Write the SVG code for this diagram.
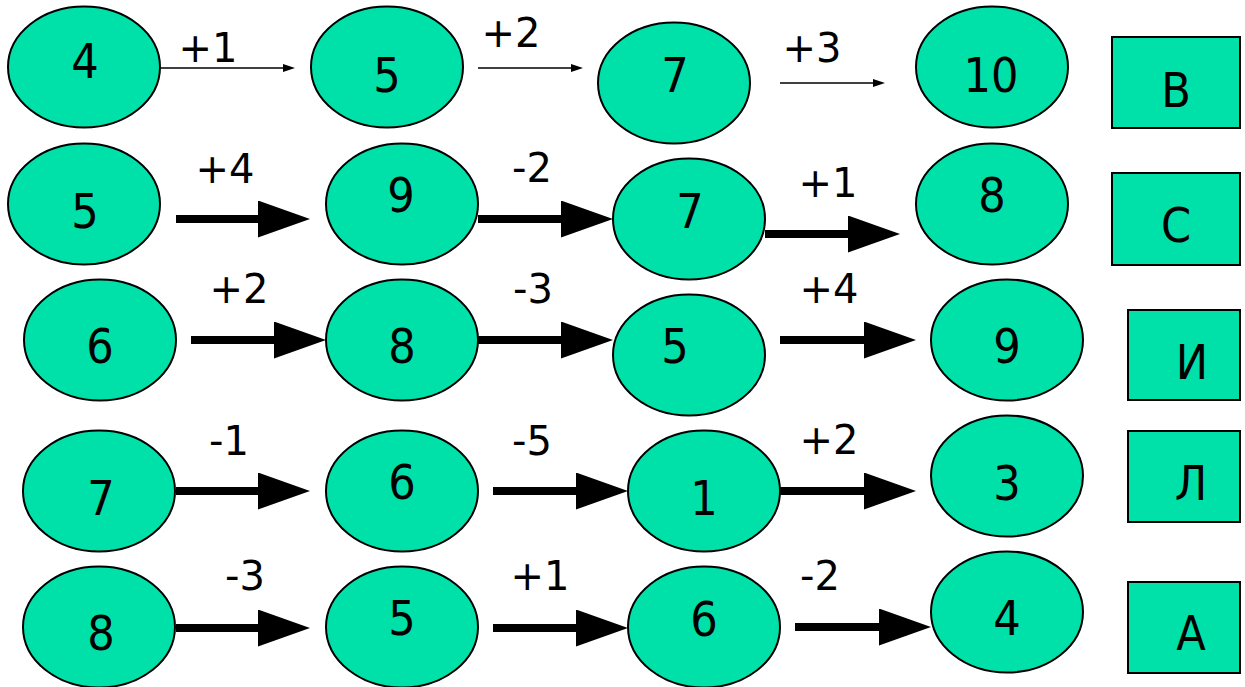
<svg xmlns="http://www.w3.org/2000/svg" width="1245" height="687" viewBox="0 0 1245 687">
<style>
text{fill:#000;text-anchor:middle}
.n text{font-family:"DejaVu Sans Condensed","DejaVu Sans",sans-serif;font-stretch:condensed;font-size:48px}
.lbl{font-family:"DejaVu Sans",sans-serif;font-size:40px}
.n ellipse,.n rect{fill:#00E1AA;stroke:#000;stroke-width:2}
.thin{stroke:#000;stroke-width:1.3;fill:none}
.thick{stroke:#000;stroke-width:8;fill:none}
</style>
<defs>
<marker id="ah" markerUnits="userSpaceOnUse" markerWidth="54" markerHeight="38" refX="2" refY="18.5" orient="auto" viewBox="0 0 54 38">
<path d="M0,0 L52,18.5 L0,37 z" fill="#000"/>
</marker>
<marker id="as" markerUnits="userSpaceOnUse" markerWidth="14" markerHeight="10" refX="1" refY="4.5" orient="auto" viewBox="0 0 14 10">
<path d="M0,0.5 L12,4.5 L0,8.5 z" fill="#000"/>
</marker>
</defs>
<g id="connectors">
<line class="thin" x1="160" y1="68" x2="284" y2="68" marker-end="url(#as)"/>
<line class="thin" x1="478" y1="68" x2="572" y2="68" marker-end="url(#as)"/>
<line class="thin" x1="780" y1="83" x2="874" y2="83" marker-end="url(#as)"/>
<line class="thick" x1="176" y1="219" x2="260" y2="219" marker-end="url(#ah)"/>
<line class="thick" x1="478" y1="219" x2="563" y2="219" marker-end="url(#ah)"/>
<line class="thick" x1="765" y1="234" x2="850" y2="234" marker-end="url(#ah)"/>
<line class="thick" x1="191" y1="340" x2="276" y2="340" marker-end="url(#ah)"/>
<line class="thick" x1="477" y1="340" x2="563" y2="340" marker-end="url(#ah)"/>
<line class="thick" x1="780" y1="340" x2="866" y2="340" marker-end="url(#ah)"/>
<line class="thick" x1="176" y1="491" x2="260" y2="491" marker-end="url(#ah)"/>
<line class="thick" x1="493" y1="491" x2="578" y2="491" marker-end="url(#ah)"/>
<line class="thick" x1="780" y1="491" x2="866" y2="491" marker-end="url(#ah)"/>
<line class="thick" x1="176" y1="628" x2="260" y2="628" marker-end="url(#ah)"/>
<line class="thick" x1="493" y1="628" x2="578" y2="628" marker-end="url(#ah)"/>
<line class="thick" x1="795" y1="627" x2="881" y2="627" marker-end="url(#ah)"/>
<text class="lbl" x="208" y="62">+1</text>
<text class="lbl" x="511" y="47">+2</text>
<text class="lbl" x="812" y="62">+3</text>
<text class="lbl" x="225" y="183">+4</text>
<text class="lbl" x="532" y="182">-2</text>
<text class="lbl" x="828" y="197">+1</text>
<text class="lbl" x="239" y="303">+2</text>
<text class="lbl" x="533" y="303">-3</text>
<text class="lbl" x="829" y="303">+4</text>
<text class="lbl" x="229" y="455">-1</text>
<text class="lbl" x="532" y="455">-5</text>
<text class="lbl" x="829" y="454">+2</text>
<text class="lbl" x="245" y="590">-3</text>
<text class="lbl" x="540" y="590">+1</text>
<text class="lbl" x="820" y="590">-2</text>
</g>
<g id="r1n1" class="n"><ellipse cx="84" cy="67" rx="76" ry="60.5"/><text x="85" y="78">4</text></g>
<g id="r1n2" class="n"><ellipse cx="387" cy="67" rx="76" ry="60.5"/><text x="387" y="92">5</text></g>
<g id="r1n3" class="n"><ellipse cx="674" cy="83" rx="76" ry="60.5"/><text x="675" y="92">7</text></g>
<g id="r1n4" class="n"><ellipse cx="992" cy="67" rx="76" ry="60.5"/><text x="991" y="92">10</text></g>
<g id="r1box" class="n"><rect x="1112" y="37" width="128" height="91"/><text x="1176" y="107">В</text></g>
<g id="r2n1" class="n"><ellipse cx="84" cy="204" rx="76" ry="60.5"/><text x="85" y="228">5</text></g>
<g id="r2n2" class="n"><ellipse cx="402" cy="204" rx="76" ry="60.5"/><text x="401" y="212">9</text></g>
<g id="r2n3" class="n"><ellipse cx="689" cy="219" rx="76" ry="60.5"/><text x="690" y="228">7</text></g>
<g id="r2n4" class="n"><ellipse cx="992" cy="204" rx="76" ry="60.5"/><text x="992" y="212">8</text></g>
<g id="r2box" class="n"><rect x="1112" y="173" width="128" height="92"/><text x="1176" y="242">С</text></g>
<g id="r3n1" class="n"><ellipse cx="100" cy="340" rx="76" ry="60.5"/><text x="100" y="363">6</text></g>
<g id="r3n2" class="n"><ellipse cx="402" cy="340" rx="76" ry="60.5"/><text x="402" y="363">8</text></g>
<g id="r3n3" class="n"><ellipse cx="689" cy="355" rx="76" ry="60.5"/><text x="675" y="363">5</text></g>
<g id="r3n4" class="n"><ellipse cx="1007" cy="340" rx="76" ry="60.5"/><text x="1007" y="363">9</text></g>
<g id="r3box" class="n"><rect x="1128" y="310" width="112" height="90"/><text x="1192" y="379">И</text></g>
<g id="r4n1" class="n"><ellipse cx="99" cy="491" rx="76" ry="60.5"/><text x="101" y="515">7</text></g>
<g id="r4n2" class="n"><ellipse cx="402" cy="491" rx="76" ry="60.5"/><text x="402" y="499">6</text></g>
<g id="r4n3" class="n"><ellipse cx="704" cy="491" rx="76" ry="60.5"/><text x="704" y="515">1</text></g>
<g id="r4n4" class="n"><ellipse cx="1007" cy="476" rx="76" ry="60.5"/><text x="1007" y="500">3</text></g>
<g id="r4box" class="n"><rect x="1128" y="431" width="112" height="91"/><text x="1191" y="500">Л</text></g>
<g id="r5n1" class="n"><ellipse cx="99" cy="627" rx="76" ry="60.5"/><text x="101" y="650">8</text></g>
<g id="r5n2" class="n"><ellipse cx="402" cy="627" rx="76" ry="60.5"/><text x="402" y="635">5</text></g>
<g id="r5n3" class="n"><ellipse cx="704" cy="627" rx="76" ry="60.5"/><text x="704" y="636">6</text></g>
<g id="r5n4" class="n"><ellipse cx="1007" cy="612" rx="76" ry="60.5"/><text x="1007" y="635">4</text></g>
<g id="r5box" class="n"><rect x="1128" y="582" width="112" height="91"/><text x="1191" y="650">А</text></g>
</svg>
